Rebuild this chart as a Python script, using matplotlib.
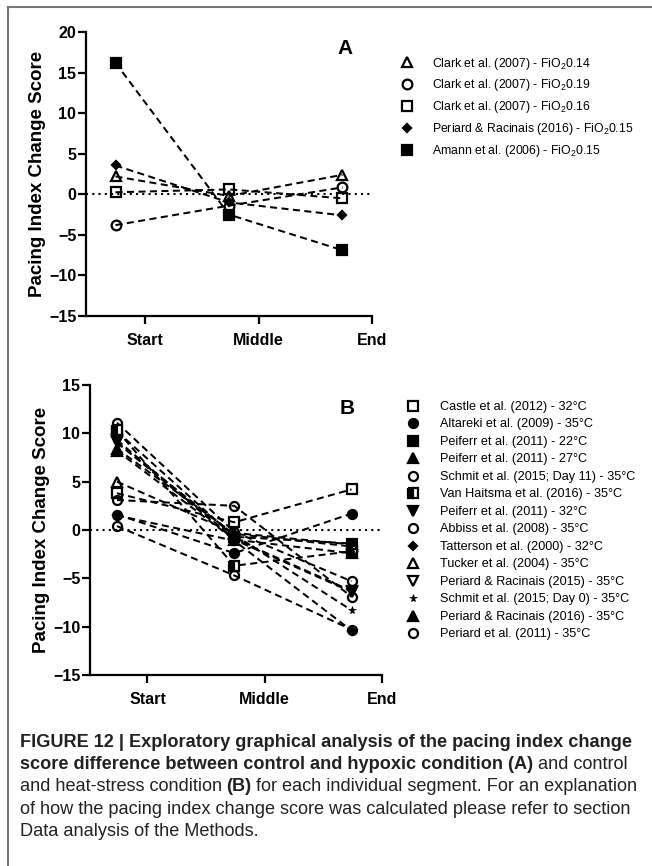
import matplotlib
matplotlib.use("Agg")
import matplotlib.pyplot as plt
from matplotlib.lines import Line2D

plt.rcParams['font.family'] = ['Liberation Sans', 'DejaVu Sans']
plt.rcParams['mathtext.fontset'] = 'custom'
plt.rcParams['mathtext.rm'] = 'Liberation Sans'
plt.rcParams['mathtext.default'] = 'regular'

segments = ["Start", "Middle", "End"]

# panel A - hypoxia
hyp_labels = [r"Clark et al. (2007) - FiO$_2$0.14",
              r"Clark et al. (2007) - FiO$_2$0.19",
              r"Clark et al. (2007) - FiO$_2$0.16",
              r"Periard & Racinais (2016) - FiO$_2$0.15",
              r"Amann et al. (2006) - FiO$_2$0.15"]
hyp_values = [[2.2, -0.2, 2.4],
              [-3.8, -1.4, 0.85],
              [0.25, 0.6, -0.5],
              [3.55, -1.0, -2.6],
              [16.2, -2.5, -6.9]]
hyp_markers = ['^', 'o', 's', 'D', 's']
hyp_filled = [False, False, False, True, True]

# panel B - heat
heat_labels = ["Castle et al. (2012) - 32°C",
               "Altareki et al. (2009) - 35°C",
               "Peiferr et al. (2011) - 22°C",
               "Peiferr et al. (2011) - 27°C",
               "Schmit et al. (2015; Day 11) - 35°C",
               "Van Haitsma et al. (2016) - 35°C",
               "Peiferr et al. (2011) - 32°C",
               "Abbiss et al. (2008) - 35°C",
               "Tatterson et al. (2000) - 32°C",
               "Tucker et al. (2004) - 35°C",
               "Periard & Racinais (2015) - 35°C",
               "Schmit et al. (2015; Day 0) - 35°C",
               "Periard & Racinais (2016) - 35°C",
               "Periard et al. (2011) - 35°C"]
heat_values = [[3.8, 0.8, 4.2],
               [1.6, -2.4, 1.7],
               [10.2, -0.7, -1.4],
               [8.4, -0.4, -1.7],
               [11.1, -0.2, -5.3],
               [10.3, -3.7, -2.2],
               [9.1, -1.0, -6.4],
               [0.4, -4.7, -10.3],
               [1.5, -1.1, -10.4],
               [5.0, -0.3, -1.5],
               [9.3, -0.9, -6.3],
               [9.0, -0.5, -8.3],
               [8.2, -1.0, -2.4],
               [3.1, 2.5, -6.9]]
heat_markers = ['s', 'o', 's', '^', 'o', 's', 'v', 'o', 'D', '^', 'v', '*', '^', 'o']
heat_filled = [False, True, True, True, False, 'half', True, False, True, False, False, True, True, False]


def marker_style(m, filled, size):
    st = dict(marker=m, color='black', markeredgecolor='black', markeredgewidth=1.6,
              markersize=size)
    if m == 'D':
        st['markersize'] = size * 0.65
    if m == '*':
        st['markersize'] = size * 0.9
        st['markeredgewidth'] = 0.5
    if filled == 'half':
        st['fillstyle'] = 'left'
        st['markerfacecolor'] = 'black'
        st['markerfacecoloralt'] = 'white'
    elif filled:
        st['markerfacecolor'] = 'black'
    else:
        st['markerfacecolor'] = 'none'
    return st


def draw_panel(ax, values, markers, filled, ylim, yticks, xlim, msize):
    x = [i + 1 - 0.26 for i in range(len(segments))]
    ax.plot(xlim, [0, 0], ls=(0, (1, 2)), color='black', lw=1.5, zorder=1)
    handles = []
    for v, m, f in zip(values, markers, filled):
        st = marker_style(m, f, msize)
        ax.plot(x, v, ls=(0, (3.5, 2.2)), lw=1.45, zorder=2, **st)
        handles.append(Line2D([], [], ls='none', **st))
    ax.set_xlim(*xlim)
    ax.set_ylim(*ylim)
    ax.set_yticks(yticks)
    ax.set_xticks(range(1, len(segments) + 1))
    ax.set_xticklabels(segments)
    for s in ['top', 'right']:
        ax.spines[s].set_visible(False)
    for s in ['left', 'bottom']:
        ax.spines[s].set_linewidth(1.6)
    ax.tick_params(direction='out', length=6, width=1.6, labelsize=11.5, pad=1)
    ax.tick_params(axis='x', pad=6)
    for lab in ax.get_xticklabels() + ax.get_yticklabels():
        lab.set_fontweight('bold')
    ax.set_ylabel("Pacing Index Change Score", fontsize=13.5, fontweight='bold', labelpad=2)
    return handles


W, H = 652, 866
fig = plt.figure(figsize=(W / 100, H / 100), dpi=100)

axA = fig.add_axes([86 / W, 1 - 316 / H, 286 / W, 284 / H])
hA = draw_panel(axA, hyp_values, hyp_markers, hyp_filled, (-15, 20), range(-15, 21, 5),
                (0.48, 3.0), 7)
axA.text(345 / W, 1 - 48 / H, "A", transform=fig.transFigure, fontsize=15, fontweight='bold',
         ha='center', va='center')
fig.legend(hA, hyp_labels, loc='upper left', bbox_to_anchor=(401 / W, 1 - 55.5 / H),
           frameon=False, fontsize=8.8, handlelength=1.0, handletextpad=1.5,
           labelspacing=0.48, borderpad=0, borderaxespad=0)

axB = fig.add_axes([90 / W, 1 - 675 / H, 292 / W, 290 / H])
hB = draw_panel(axB, heat_values, heat_markers, heat_filled, (-15, 15), range(-15, 16, 5),
                (0.51, 3.0), 6.5)
axB.text(347 / W, 1 - 408 / H, "B", transform=fig.transFigure, fontsize=15, fontweight='bold',
         ha='center', va='center')
fig.legend(hB, heat_labels, loc='upper left', bbox_to_anchor=(407 / W, 1 - 401 / H),
           frameon=False, fontsize=9.1, handlelength=1.0, handletextpad=1.65,
           labelspacing=0.435, borderpad=0, borderaxespad=0)

# frame around the figure
fig.add_artist(Line2D([8 / W, 8 / W], [0, 1 - 7 / H], color='#777777', lw=1.5))
fig.add_artist(Line2D([8 / W, 1], [1 - 7 / H, 1 - 7 / H], color='#777777', lw=1.5))

# caption
cap = fig.add_axes([0, 0, 1, 1])
cap.axis('off')
cap.set_xlim(0, W)
cap.set_ylim(H, 0)
csize = 13.1
lines = [
    [("FIGURE 12 | Exploratory graphical analysis of the pacing index change", 'bold')],
    [("score difference between control and hypoxic condition (A)", 'bold'), ("and control", 'normal')],
    [("and heat-stress condition", 'normal'), ("(B)", 'bold'),
     ("for each individual segment. For an explanation", 'normal')],
    [("of how the pacing index change score was calculated please refer to section", 'normal')],
    [("Data analysis of the Methods.", 'normal')],
]
for i, parts in enumerate(lines):
    y = 747 + i * 22.2
    prev = None
    for txt, wt in parts:
        if prev is None:
            prev = cap.text(20, y, txt, fontsize=csize, fontweight=wt,
                            ha='left', va='baseline', color='#222222')
        else:
            prev = cap.annotate(txt, xy=(1, 0), xycoords=prev, xytext=(3.2, 0),
                                textcoords='offset points', fontsize=csize, fontweight=wt,
                                ha='left', va='bottom', color='#222222')

fig.savefig("out.png", dpi=100)
